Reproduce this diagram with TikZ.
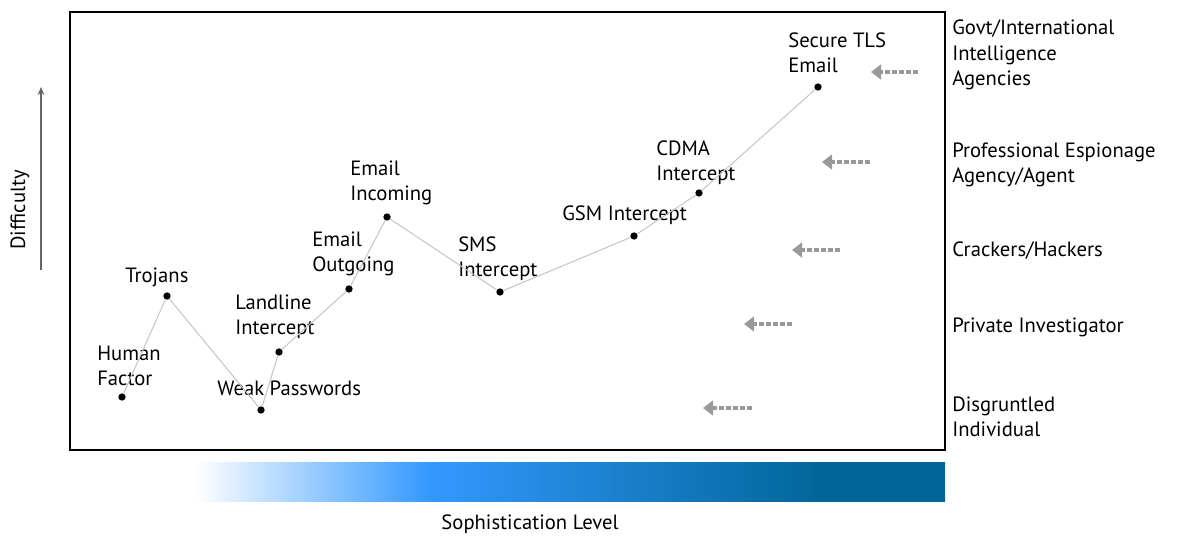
\documentclass[tikz,border=0pt]{standalone}
\usepackage{fontspec}
\setmainfont{PT Sans}
\usetikzlibrary{arrows.meta, positioning}

\definecolor{barlight}{HTML}{3399FF}
\definecolor{bardark}{HTML}{006699}
\definecolor{dashgray}{HTML}{999999}
\pgfdeclarehorizontalshading{sophshade}{100bp}{
  color(0bp)=(white); color(25bp)=(white); color(40.6bp)=(barlight);
  color(66.8bp)=(bardark); color(100bp)=(bardark)}

\begin{document}
\begin{tikzpicture}[x=0.75pt,y=-0.75pt,
  every node/.style={font=\fontsize{15.5}{19}\selectfont},
  pt/.style={circle,fill=black,inner sep=0pt,minimum size=5.5pt},
  lbl/.style={anchor=west,align=left,inner sep=0pt},
  trail/.style={draw=black!22,line width=0.8pt},
  pointer/.style={dashgray,line width=3pt,dash pattern=on 3.5pt off 1.8pt,-{Triangle[width=11pt,length=7.5pt]}}]

\useasboundingbox (0,0) rectangle (1192,538);

% Frame
\draw[line width=2pt] (70,12) rectangle (945,450);

% Sophistication bar
\shade[shading=sophshade] (195,462) rectangle (945,501);
\node (soph) at (530,524) {Sophistication Level};

% Difficulty axis
\node[rotate=90] (diff) at (20,210) {Difficulty};
\coordinate (dlow) at (41,270);
\coordinate (dhigh) at (41,87);
\draw[black!60,line width=1.2pt,-{Stealth[length=6pt,width=5pt]}] (dlow) -- (dhigh);

% Attack points
\node[pt] (human) at (122,397) {};
\node[pt] (trojans) at (167,296) {};
\node[pt] (weak) at (261,410) {};
\node[pt] (landline) at (279,352) {};
\node[pt] (outgoing) at (349,289) {};
\node[pt] (incoming) at (387,217) {};
\node[pt] (sms) at (500,292) {};
\node[pt] (gsm) at (634,236) {};
\node[pt] (cdma) at (699,193) {};
\node[pt] (tls) at (818,87) {};

\node[lbl] (humanlbl) at (97,366) {Human\\Factor};
\node[lbl] (trojanslbl) at (125,277) {Trojans};
\node[lbl] (weaklbl) at (217,388) {Weak Passwords};
\node[lbl] (landlinelbl) at (235,317) {Landline\\Intercept};
\node[lbl] (outgoinglbl) at (312,254) {Email\\Outgoing};
\node[lbl] (incominglbl) at (350,183) {Email\\Incoming};
\node[lbl] (smslbl) at (458,259) {SMS\\Intercept};
\node[lbl] (gsmlbl) at (562,215) {GSM Intercept};
\node[lbl] (cdmalbl) at (656,163) {CDMA\\Intercept};
\node[lbl] (tlslbl) at (788,53) {Secure TLS\\Email};

% Trail from point to point
\draw[trail] (human) -- (trojans) -- (weak) -- (landline) -- (outgoing)
  -- (incoming) -- (sms) -- (gsm) -- (cdma) -- (tls);

% Attackers
\node[lbl] (govt) at (952,55) {Govt/International\\Intelligence\\Agencies};
\node[lbl] (espionage) at (952,165) {Professional Espionage\\Agency/Agent};
\node[lbl] (crackers) at (952,251) {Crackers/Hackers};
\node[lbl] (private) at (952,327) {Private Investigator};
\node[lbl] (disgruntled) at (952,417) {Disgruntled\\Individual};

% Dashed pointers
\coordinate (govtS) at (918,72);        \coordinate (govtE) at (871,72);
\coordinate (espionageS) at (870,162);  \coordinate (espionageE) at (822,162);
\coordinate (crackersS) at (840,250);   \coordinate (crackersE) at (792,250);
\coordinate (privateS) at (792,324);    \coordinate (privateE) at (744,324);
\coordinate (disgruntledS) at (752,408); \coordinate (disgruntledE) at (703,408);
\foreach \a in {govt,espionage,crackers,private,disgruntled}
  \draw[pointer] (\a S) -- (\a E);
\end{tikzpicture}
\end{document}
